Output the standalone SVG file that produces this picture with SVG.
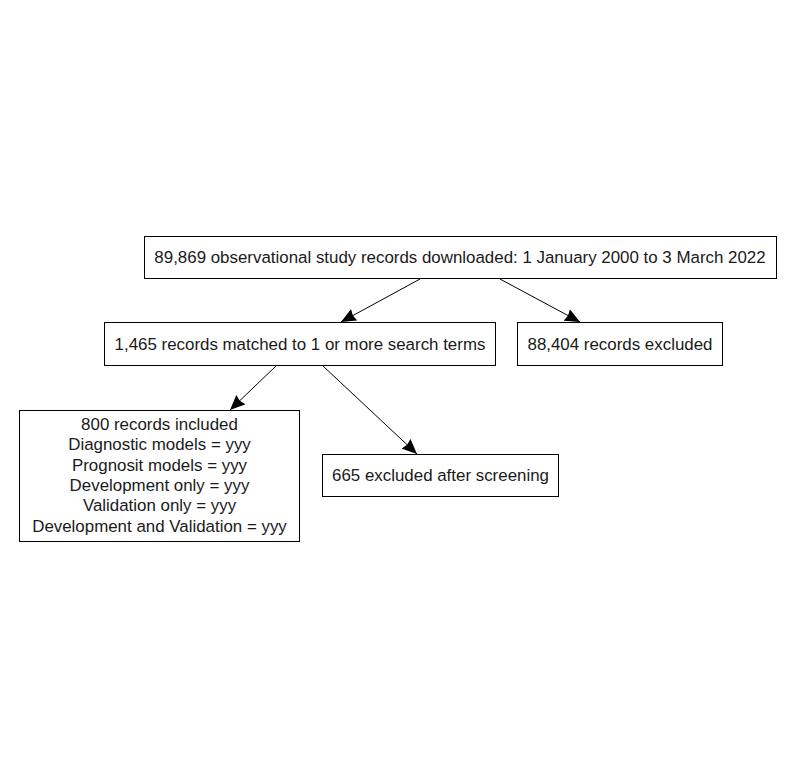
<svg xmlns="http://www.w3.org/2000/svg" width="793" height="776" viewBox="0 0 793 776">
<style>
.box{fill:#fff;stroke:#000;stroke-width:1}
.t{font-family:"Liberation Sans",Arial,sans-serif;font-size:16.9px;fill:#1a1a1a;text-anchor:middle;dominant-baseline:central}
.c{stroke:#000;stroke-width:1;fill:none;marker-end:url(#ah)}
</style>
<defs>
<marker id="ah" markerUnits="userSpaceOnUse" markerWidth="16" markerHeight="14" refX="15" refY="7" orient="auto">
<path d="M0,0.5 L15,7 L0,13.5 L1.5,7 Z" fill="#000"/>
</marker>
</defs>
<rect width="793" height="776" fill="#fff"/>
<g id="connectors">
<line class="c" x1="420" y1="279" x2="341" y2="322"/>
<line class="c" x1="500" y1="279" x2="580" y2="322"/>
<line class="c" x1="276" y1="366" x2="230" y2="410"/>
<line class="c" x1="323" y1="366" x2="417" y2="454"/>
</g>
<g id="n1">
<rect class="box" x="144.5" y="236.5" width="632" height="42"/>
<text class="t" x="460" y="257">89,869 observational study records downloaded: 1 January 2000 to 3 March 2022</text>
</g>
<g id="n2">
<rect class="box" x="104.5" y="322.5" width="391" height="43"/>
<text class="t" x="300" y="344">1,465 records matched to 1 or more search terms</text>
</g>
<g id="n3">
<rect class="box" x="517.5" y="322.5" width="205" height="43"/>
<text class="t" x="620" y="344">88,404 records excluded</text>
</g>
<g id="n4">
<rect class="box" x="19.5" y="410.5" width="280" height="131"/>
<text class="t" x="159.5" y="424">800 records included</text>
<text class="t" x="159.5" y="444.5">Diagnostic models = yyy</text>
<text class="t" x="159.5" y="465">Prognosit models = yyy</text>
<text class="t" x="159.5" y="485.5">Development only = yyy</text>
<text class="t" x="159.5" y="505.5">Validation only = yyy</text>
<text class="t" x="159.5" y="526">Development and Validation = yyy</text>
</g>
<g id="n5">
<rect class="box" x="322.5" y="454.5" width="236" height="42"/>
<text class="t" x="440.5" y="475">665 excluded after screening</text>
</g>
</svg>
